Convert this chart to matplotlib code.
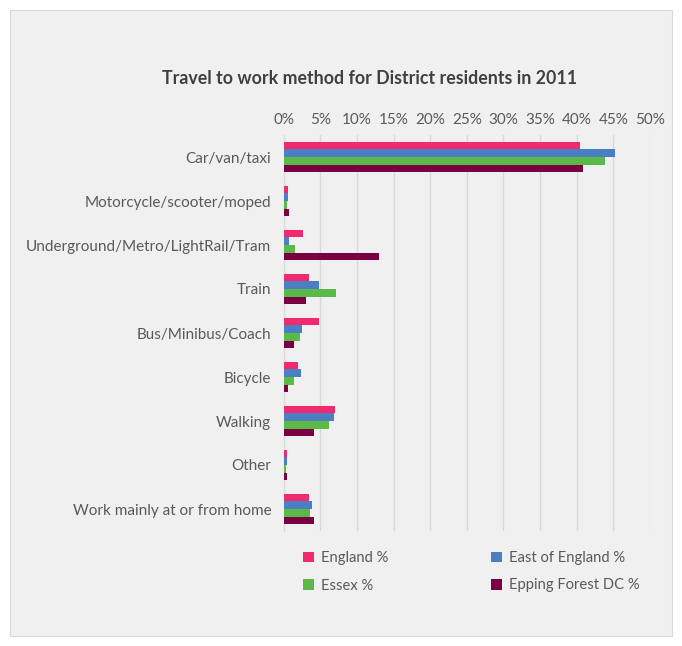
import numpy as np
import matplotlib.pyplot as plt
from matplotlib.patches import Rectangle

plt.rcParams['font.family'] = ['Lato', 'DejaVu Sans']

categories = ['Car/van/taxi', 'Motorcycle/scooter/moped', 'Underground/Metro/LightRail/Tram',
              'Train', 'Bus/Minibus/Coach', 'Bicycle', 'Walking', 'Other',
              'Work mainly at or from home']
series_names = ['England %', 'East of England %', 'Essex %', 'Epping Forest DC %']
england = [40.5, 0.55, 2.6, 3.45, 4.8, 1.95, 7.0, 0.45, 3.45]
east_of_england = [45.2, 0.55, 0.7, 4.8, 2.5, 2.35, 6.85, 0.45, 3.85]
essex = [43.9, 0.4, 1.5, 7.1, 2.2, 1.4, 6.2, 0.3, 3.6]
epping_forest = [40.8, 0.7, 13.0, 3.0, 1.4, 0.6, 4.1, 0.45, 4.1]
colors = ['#ef2a70', '#4a7fc3', '#5bb947', '#7a0043']

xticks = np.arange(0, 51, 5)
text_col = '#595959'

fig = plt.figure(figsize=(6.82, 6.46), dpi=100, facecolor='white')
# grey panel with thin border
fig.patches.append(Rectangle((10 / 682, 10 / 646), 662 / 682, 626 / 646,
                             transform=fig.transFigure, facecolor='#f0f0f0',
                             edgecolor='#d9d9d9', linewidth=0.8, zorder=-5))

ax = fig.add_axes([283.7 / 682, 1 - 531 / 646, 366.3 / 682, 396 / 646])
ax.set_facecolor('none')
ax.set_zorder(2)

y = np.arange(len(categories))
h = 0.176
all_series = [england, east_of_england, essex, epping_forest]
for i, (vals, name, c) in enumerate(zip(all_series, series_names, colors)):
    ax.barh(y + (i - 1.5) * h, vals, height=h, color=c, label=name, zorder=3)

ax.set_xlim(0, 50)
ax.set_ylim(len(categories) - 0.5, -0.5)
ax.set_xticks(xticks)
ax.set_xticklabels([f'{t}%' for t in xticks])
ax.xaxis.tick_top()
ax.tick_params(axis='x', length=0, pad=6, labelsize=11, colors=text_col)
ax.set_yticks(y)
ax.set_yticklabels(categories)
ax.tick_params(axis='y', length=0, pad=9, labelsize=11, colors=text_col)
ax.grid(axis='x', color='#d9d9d9', linewidth=1, zorder=0)
for s in ['top', 'right', 'bottom']:
    ax.spines[s].set_visible(False)
ax.spines['left'].set_color('#d9d9d9')

fig.text(370 / 682, 1 - 78 / 646, 'Travel to work method for District residents in 2011',
         ha='center', va='center', fontsize=12.8, fontweight='bold', color='#404040')

# legend reads across rows: England / East of England, then Essex / Epping Forest
handles, labels = ax.get_legend_handles_labels()
order = [0, 2, 1, 3]
fig.legend([handles[k] for k in order], [labels[k] for k in order], ncol=2,
           loc='upper left', bbox_to_anchor=(290 / 682, 1 - 538 / 646), frameon=False,
           handlelength=0.7, handleheight=0.7, handletextpad=0.5,
           columnspacing=7.0, labelspacing=0.9, fontsize=10.6, labelcolor=text_col)

fig.savefig('out.png', dpi=100, facecolor='white')
